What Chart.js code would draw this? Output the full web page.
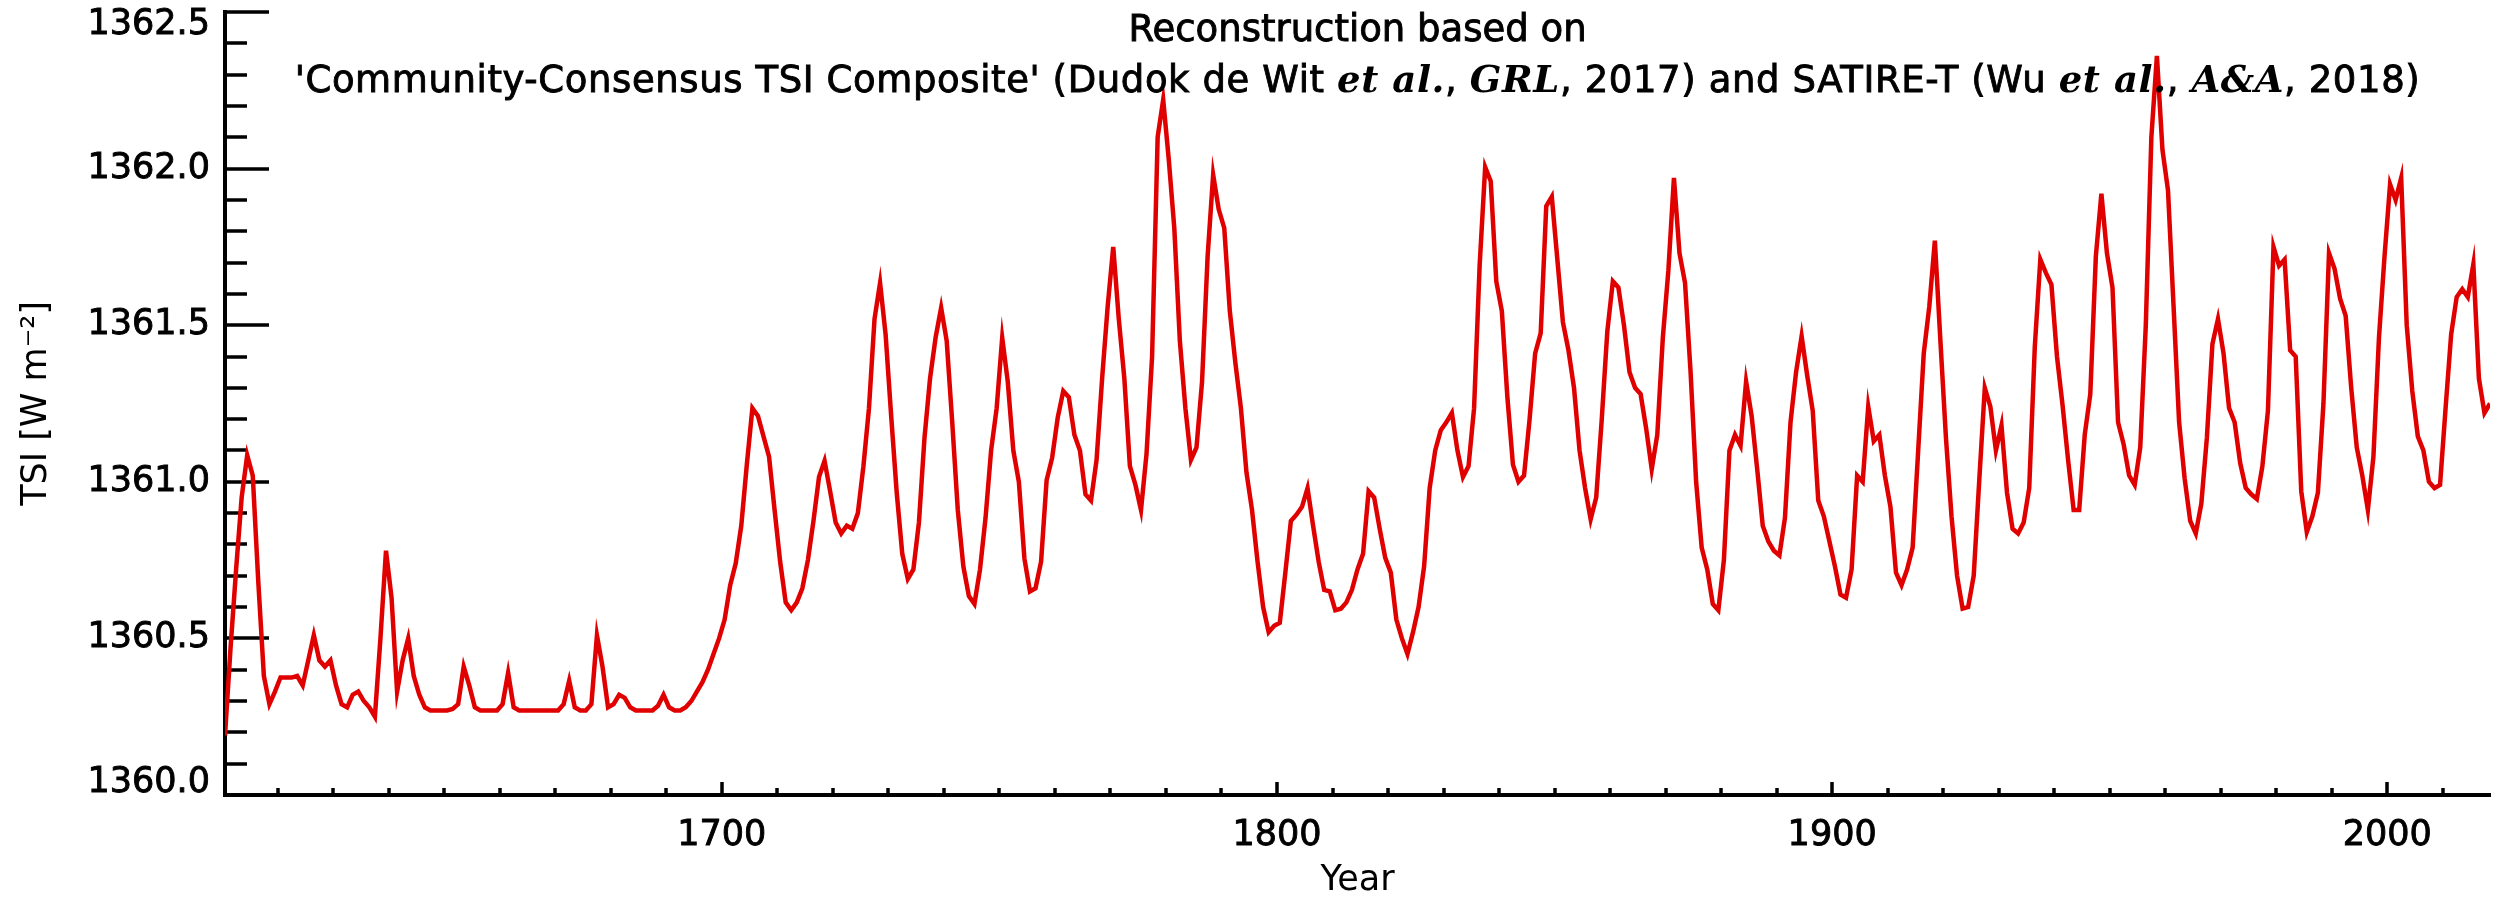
<!DOCTYPE html>
<html>
<head>
<meta charset="utf-8">
<title>TSI reconstruction</title>
<script src="https://cdn.jsdelivr.net/npm/chart.js@4/dist/chart.umd.min.js"></script>
<style>
  html, body { margin: 0; padding: 0; background: #fff; }
  #tsiChart { display: block; }
</style>
</head>
<body>
<canvas id="tsiChart" width="2509" height="901"></canvas>
<script>
// annual TSI values (W m-2), one per year, plotted at mid-year
const tsi1610s = [
    1360.19, 1360.47, 1360.72, 1360.95, 1361.085, 1361.02, 1360.68, 1360.38, 1360.29, 1360.33,
    1360.375, 1360.375, 1360.375, 1360.38, 1360.35, 1360.43, 1360.51, 1360.43, 1360.41, 1360.43,
    1360.35, 1360.29, 1360.28, 1360.32, 1360.33, 1360.30, 1360.28, 1360.25, 1360.50, 1360.78,
    1360.63, 1360.33, 1360.43, 1360.50, 1360.38, 1360.32, 1360.28, 1360.27, 1360.27, 1360.27,
    1360.27, 1360.275, 1360.29, 1360.41, 1360.35, 1360.28, 1360.27, 1360.27, 1360.27, 1360.27,
    1360.29, 1360.39, 1360.28, 1360.27, 1360.27, 1360.27, 1360.27, 1360.27, 1360.27, 1360.27,
    1360.27, 1360.29, 1360.365, 1360.28, 1360.27, 1360.27, 1360.29, 1360.51, 1360.41, 1360.28,
    1360.29, 1360.32, 1360.31, 1360.28, 1360.27, 1360.27, 1360.27, 1360.27, 1360.285, 1360.32,
    1360.28, 1360.27, 1360.27, 1360.28, 1360.30, 1360.33, 1360.36, 1360.40, 1360.45, 1360.50
];
const tsi1700s = [
    1360.56, 1360.67, 1360.74, 1360.86, 1361.055, 1361.235, 1361.21, 1361.145, 1361.08, 1360.91,
    1360.745, 1360.615, 1360.59, 1360.615, 1360.66, 1360.75, 1360.875, 1361.015, 1361.067, 1360.97,
    1360.87, 1360.835, 1360.86, 1360.85, 1360.90, 1361.05, 1361.235, 1361.52, 1361.635, 1361.47,
    1361.21, 1360.965, 1360.77, 1360.69, 1360.72, 1360.87, 1361.14, 1361.33, 1361.46, 1361.556,
    1361.45, 1361.19, 1360.91, 1360.73, 1360.635, 1360.61, 1360.72, 1360.885, 1361.10, 1361.235,
    1361.46, 1361.32, 1361.10, 1361.00, 1360.755, 1360.65, 1360.66, 1360.745, 1361.005, 1361.077,
    1361.205, 1361.29, 1361.27, 1361.15, 1361.10, 1360.96, 1360.94, 1361.07, 1361.33, 1361.56,
    1361.75, 1361.52, 1361.33, 1361.05, 1360.99, 1360.91, 1361.09, 1361.40, 1362.10, 1362.22,
    1362.03, 1361.81, 1361.45, 1361.235, 1361.07, 1361.11, 1361.32, 1361.72, 1361.98, 1361.87,
    1361.81, 1361.545, 1361.38, 1361.235, 1361.03, 1360.91, 1360.745, 1360.60, 1360.52, 1360.54
];
const tsi1800s = [
    1360.55, 1360.71, 1360.875, 1360.895, 1360.92, 1360.98, 1360.86, 1360.745, 1360.655, 1360.65,
    1360.59, 1360.595, 1360.615, 1360.655, 1360.72, 1360.77, 1360.97, 1360.95, 1360.85, 1360.757,
    1360.71, 1360.56, 1360.50, 1360.45, 1360.52, 1360.60, 1360.73, 1360.98, 1361.10, 1361.165,
    1361.19, 1361.22, 1361.10, 1361.015, 1361.05, 1361.235, 1361.69, 1362.005, 1361.96, 1361.64,
    1361.545, 1361.27, 1361.055, 1361.00, 1361.02, 1361.20, 1361.41, 1361.475, 1361.88, 1361.91,
    1361.71, 1361.51, 1361.42, 1361.30, 1361.10, 1360.98, 1360.88, 1360.95, 1361.20, 1361.48,
    1361.64, 1361.62, 1361.50, 1361.35, 1361.30, 1361.28, 1361.17, 1361.04, 1361.15, 1361.46,
    1361.675, 1361.97, 1361.73, 1361.635, 1361.35, 1361.00, 1360.79, 1360.72, 1360.61, 1360.59,
    1360.75, 1361.10, 1361.15, 1361.115, 1361.32, 1361.21, 1361.04, 1360.86, 1360.81, 1360.78,
    1360.765, 1360.885, 1361.19, 1361.35, 1361.465, 1361.34, 1361.227, 1360.94, 1360.89, 1360.81
];
const tsi1900s = [
    1360.73, 1360.64, 1360.63, 1360.72, 1361.02, 1361.00, 1361.24, 1361.13, 1361.15, 1361.02,
    1360.92, 1360.71, 1360.67, 1360.72, 1360.79, 1361.10, 1361.41, 1361.56, 1361.77, 1361.45,
    1361.14, 1360.89, 1360.70, 1360.595, 1360.60, 1360.70, 1361.005, 1361.30, 1361.24, 1361.10,
    1361.18, 1360.965, 1360.85, 1360.835, 1360.87, 1360.98, 1361.43, 1361.71, 1361.667, 1361.63,
    1361.40, 1361.245, 1361.07, 1360.91, 1360.91, 1361.15, 1361.28, 1361.72, 1361.92, 1361.73,
    1361.62, 1361.19, 1361.12, 1361.02, 1360.99, 1361.11, 1361.50, 1362.10, 1362.36, 1362.06,
    1361.93, 1361.56, 1361.19, 1361.01, 1360.875, 1360.835, 1360.93, 1361.14, 1361.44, 1361.52,
    1361.41, 1361.235, 1361.19, 1361.06, 1360.98, 1360.96, 1360.945, 1361.05, 1361.227, 1361.75,
    1361.69, 1361.71, 1361.42, 1361.40, 1360.97, 1360.84, 1360.89, 1360.965, 1361.25, 1361.73,
    1361.68, 1361.585, 1361.53, 1361.30, 1361.11, 1361.02, 1360.91, 1361.08, 1361.46, 1361.72,
    1361.95, 1361.90, 1361.97, 1361.50, 1361.29, 1361.145, 1361.10, 1361.00, 1360.98, 1360.99,
    1361.235, 1361.47, 1361.59, 1361.615, 1361.59, 1361.695, 1361.33, 1361.22, 1361.25
];
// first mid-year of each block
const blockStarts = [1610.5, 1700.5, 1800.5, 1900.5];

const xTickValues = [1620, 1630, 1640, 1650, 1660, 1670, 1680, 1690, 1700, 1710, 1720, 1730, 1740, 1750,
    1760, 1770, 1780, 1790, 1800, 1810, 1820, 1830, 1840, 1850, 1860, 1870, 1880, 1890, 1900, 1910,
    1920, 1930, 1940, 1950, 1960, 1970, 1980, 1990, 2000, 2010];
const xLabelYears = [1700, 1800, 1900, 2000];
const yMajorTicks = [1360.0, 1360.5, 1361.0, 1361.5, 1362.0, 1362.5];

const titleLines = [
    [['Reconstruction based on', false]],
    [["'Community-Consensus TSI Composite' (Dudok de Wit ", false], ['et al.', true], [', ', false],
     ['GRL', true], [', 2017) and SATIRE-T (Wu ', false], ['et al.', true], [', ', false],
     ['A&A', true], [', 2018)', false]]
];


function buildPoints() {
    let points = [];
    [tsi1610s, tsi1700s, tsi1800s, tsi1900s].forEach(function (block, b) {
        block.forEach(function (v, i) {
            points.push({ x: blockStarts[b] + i, y: v });
        });
    });
    return points;
}

function buildYTicks() {
    let ticks = [];
    for (let i = 0; i <= 25; i++) {
        ticks.push({ value: Number((1360 + i * 0.1).toFixed(1)) });
    }
    return ticks;
}

// IDL style ticks, drawn inward from the axes
const innerTicks = {
    id: 'innerTicks',
    beforeDatasetsDraw(chart) {
        const { ctx, chartArea, scales } = chart;
        ctx.save();
        ctx.strokeStyle = '#000';
        ctx.lineWidth = 3.5;
        ctx.beginPath();
        scales.y.ticks.forEach(function (t) {
            const py = Math.round(scales.y.getPixelForValue(t.value));
            const len = yMajorTicks.includes(t.value) ? 44 : 22;
            ctx.moveTo(chartArea.left, py);
            ctx.lineTo(chartArea.left + len, py);
        });
        scales.x.ticks.forEach(function (t) {
            const px = Math.round(scales.x.getPixelForValue(t.value));
            const len = xLabelYears.includes(t.value) ? 13 : 7;
            ctx.moveTo(px, chartArea.bottom);
            ctx.lineTo(px, chartArea.bottom - len);
        });
        ctx.stroke();
        ctx.restore();
    }
};

// two-line title with italic bold citations
const richTitle = {
    id: 'richTitle',
    afterDraw(chart) {
        const { ctx, chartArea } = chart;
        const plainFont = '37px "DejaVu Sans"';
        const emFont = 'italic bold 37px "DejaVu Serif"';
        const baselines = [41, 92];
        const spacing = ['0px', '0.6px'];
        const centerX = (chartArea.left + chartArea.right) / 2;
        ctx.save();
        ctx.fillStyle = '#000';
        ctx.strokeStyle = '#000';
        ctx.lineWidth = 0.9;
        ctx.textAlign = 'left';
        ctx.textBaseline = 'alphabetic';
        titleLines.forEach(function (segments, li) {
            ctx.letterSpacing = spacing[li];
            let total = 0;
            segments.forEach(function (s) {
                ctx.font = s[1] ? emFont : plainFont;
                total += ctx.measureText(s[0]).width;
            });
            let x = centerX - total / 2;
            segments.forEach(function (s) {
                ctx.font = s[1] ? emFont : plainFont;
                ctx.fillText(s[0], x, baselines[li]);
                if (!s[1]) ctx.strokeText(s[0], x, baselines[li]);
                x += ctx.measureText(s[0]).width;
            });
        });
        ctx.restore();
    }
};


Chart.defaults.font.family = 'DejaVu Sans';
Chart.defaults.color = '#000';

const tsiChart = document.getElementById('tsiChart');

new Chart(tsiChart, {
    type: 'line',
    data: {
        datasets: [
            {
                label: 'TSI',
                data: buildPoints(),
                borderColor: 'rgb(224,0,0)',
                borderWidth: 4.5,
                pointRadius: 0,
                tension: 0,
                fill: false
            }
        ]
    },
    plugins: [innerTicks, richTitle],
    options: {
        responsive: false,
        devicePixelRatio: 1,
        animation: false,
        layout: {
            padding: { top: 12, right: 19, left: 0, bottom: 0 }
        },
        plugins: {
            legend: { display: false },
            tooltip: { enabled: false }
        },
        scales: {
            x: {
                type: 'linear',
                position: 'bottom',
                min: 1610.5,
                max: 2018.5,
                afterBuildTicks: function (scale) {
                    scale.ticks = xTickValues.map(v => ({ value: v }));
                },
                afterFit: function (scale) {
                    scale.height = 106;
                    scale.paddingLeft = 0;
                    scale.paddingRight = 0;
                },
                grid: { display: false, drawTicks: false },
                border: { display: true, color: '#000', width: 4 },
                ticks: {
                    autoSkip: false,
                    maxRotation: 0,
                    padding: 20,
                    font: { size: 35 },
                    textStrokeColor: '#000',
                    textStrokeWidth: 0.9,
                    callback: function (value) {
                        return xLabelYears.includes(value) ? String(value) : '';
                    }
                },
                title: {
                    display: true,
                    text: 'Year',
                    font: { size: 35, lineHeight: 1 },
                    padding: { top: 0, bottom: 3 }
                }
            },
            y: {
                type: 'linear',
                min: 1360,
                max: 1362.5,
                afterBuildTicks: function (scale) {
                    scale.ticks = buildYTicks();
                },
                afterFit: function (scale) {
                    scale.width = 225;
                    scale.paddingTop = 0;
                    scale.paddingBottom = 0;
                },
                grid: { display: false, drawTicks: false },
                border: { display: true, color: '#000', width: 4 },
                ticks: {
                    autoSkip: false,
                    padding: 15,
                    textStrokeColor: '#000',
                    textStrokeWidth: 0.9,
                    font: function (context) {
                        let v = context.tick ? context.tick.value : null;
                        let lh = v === 1362.5 ? 0.75 : (v === 1360 ? 0.7 : 1.2);
                        return { size: 35, lineHeight: lh };
                    },
                    callback: function (value) {
                        if (value === 1362.5) return ['', '1362.5'];
                        if (value === 1360) return ['1360.0', ''];
                        return yMajorTicks.includes(value) ? value.toFixed(1) : '';
                    }
                },
                title: {
                    display: true,
                    text: 'TSI [W m\u207B\u00B2]',
                    font: { size: 35, lineHeight: 1 },
                    padding: { top: 19, bottom: 0 }
                }
            }
        }
    }
});
</script>
</body>
</html>
